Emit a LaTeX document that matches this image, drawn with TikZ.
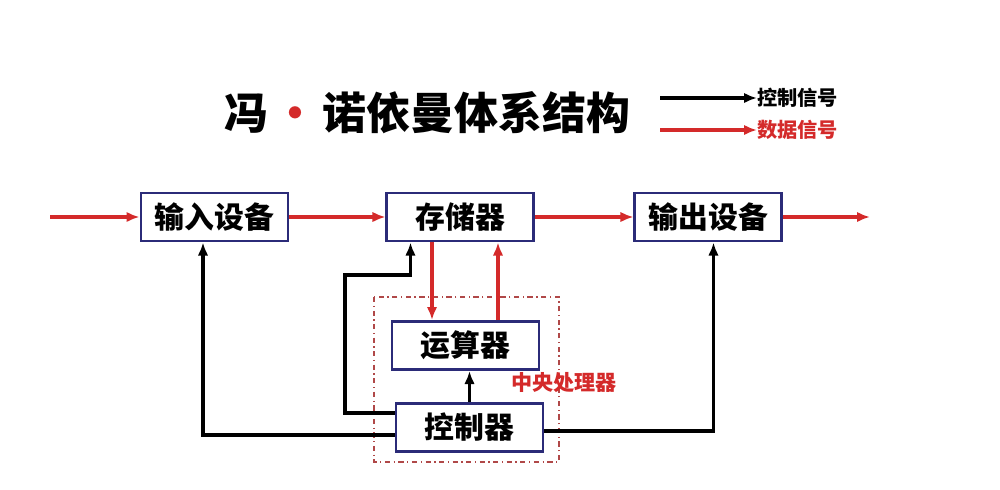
\documentclass[tikz,border=0pt]{standalone}
\usepackage{fontspec}
\usepackage{xcolor}
\usepackage{tikz}
\usetikzlibrary{arrows.meta,positioning,calc}
\newfontfamily\cjk{Noto Sans CJK SC}
\definecolor{DataRed}{HTML}{D42A2A}
\definecolor{Navy}{HTML}{2B2B78}
\definecolor{CpuLine}{HTML}{B04848}

\begin{document}
\begin{tikzpicture}[font=\cjk\bfseries,>={Latex[length=2.6mm,width=2.1mm]},
  box/.style={draw=Navy,line width=1.7pt,fill=white,minimum width=2.94cm,minimum height=.96cm,font=\cjk\bfseries\fontsize{17}{20}\selectfont},
  data/.style={->,DataRed,line width=2.1pt},
  ctl/.style={->,black,line width=1.8pt}]
  \useasboundingbox (0,0) rectangle (20,-9.78);
  % title and legend
  \node (title) at (8.54,-2.26) {\fontsize{25}{30}\selectfont 冯\hspace{.12em}\textcolor{DataRed}{•}\hspace{.12em}诺依曼体系结构};
  \coordinate (lc) at (13.2,-1.96);
  \coordinate (ld) at (13.2,-2.60);
  \node[right,font=\cjk\bfseries\fontsize{11.5}{14}\selectfont,inner sep=0pt] (lctext) at (15.14,-1.96) {控制信号};
  \node[right,font=\cjk\bfseries\fontsize{11.5}{14}\selectfont,inner sep=0pt,text=DataRed] (ldtext) at (15.14,-2.60) {数据信号};
  \draw[ctl] (lc) -- (lctext.west);
  \draw[data] (ld) -- (ldtext.west);
  % top row
  \node[box] (in) at (4.29,-4.34) {输入设备};
  \node[box,right=1.92cm of in] (store) {存储器};
  \node[box,right=1.96cm of store] (out) {输出设备};
  % cpu
  \node[box] (alu) at (9.31,-6.91) {运算器};
  \node[box] (ctrl) at (9.39,-8.55) {控制器};
  \draw[CpuLine,line width=.7pt,dash dot] (7.48,-5.94) rectangle (11.18,-9.24);
  \node[text=DataRed,font=\cjk\bfseries\fontsize{12}{14}\selectfont] (cpu) at (11.28,-7.66) {中央处理器};
  % data signals
  \coordinate (src) at (1.0,-4.34);
  \coordinate (dst) at (17.4,-4.34);
  \draw[data] (src) -- (in);
  \draw[data] (in) -- (store);
  \draw[data] (store) -- (out);
  \draw[data] (out) -- (dst);
  \draw[data] ([xshift=-6.7mm]alu.north |- store.south) -- ([xshift=-6.7mm]alu.north);
  \draw[data] ([xshift=6.5mm]alu.north) -- ([xshift=6.5mm]alu.north |- store.south);
  % control signals
  \draw[ctl] (ctrl.north) -- (ctrl.north |- alu.south);
  \draw[ctl] ([yshift=2.9mm]ctrl.west) -| (6.9,-5.5) -| ([xshift=-10mm]store.south);
  \draw[ctl] ([yshift=-1.5mm]ctrl.west) -| ([xshift=-2.3mm]in.south);
  \draw[ctl] ([yshift=-.7mm]ctrl.east) -| ([xshift=1mm]out.south);
\end{tikzpicture}
\end{document}
